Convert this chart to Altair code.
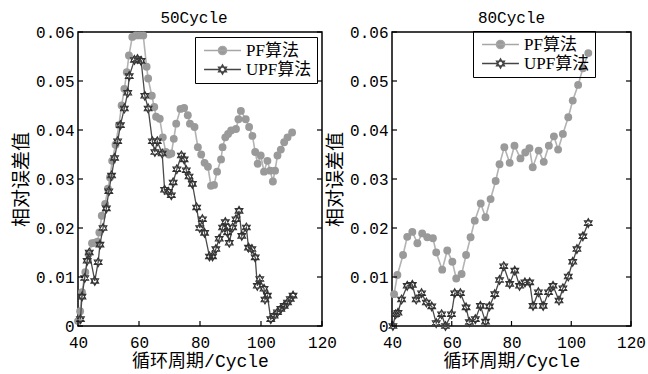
import altair as alt
import pandas as pd

SERIES = ["PF算法", "UPF算法"]
X_TICKS = [40, 60, 80, 100, 120]
Y_TICKS = [0, 0.01, 0.02, 0.03, 0.04, 0.05, 0.06]

# ---- 50Cycle panel ----
L_PF_X = [40.0, 40.7, 41.3, 42.4, 43.5, 44.6, 45.6, 46.4, 47.0, 47.8, 48.9, 49.8, 50.5, 51.2,
          52.3, 53.4, 54.3, 55.2, 56.0, 56.7, 57.8, 59.0, 60.2, 61.4, 62.5, 63.0, 64.2, 65.0,
          65.6, 66.8, 67.8, 68.8, 69.8, 70.6, 71.4, 72.2, 73.6, 74.8, 76.0, 76.7, 78.2, 79.3,
          80.4, 81.5, 82.6, 83.6, 84.6, 85.6, 86.9, 87.4, 88.3, 89.2, 90.2, 91.8, 92.6, 93.4,
          95.0, 96.1, 97.2, 98.1, 98.9, 99.9, 101.0, 102.1, 103.0, 103.9, 104.6, 105.4, 106.5,
          107.6, 108.7, 110.2]
L_PF_Y = [0.0010, 0.0030, 0.0069, 0.0110, 0.0147, 0.0169, 0.0170, 0.0172, 0.0191, 0.0225,
          0.0249, 0.0280, 0.0303, 0.0337, 0.0370, 0.0410, 0.0450, 0.0484, 0.0518, 0.0552,
          0.0590, 0.0593, 0.0593, 0.0593, 0.0529, 0.0505, 0.0470, 0.0447, 0.0427, 0.0423,
          0.0385, 0.0355, 0.0350, 0.0352, 0.0382, 0.0413, 0.0443, 0.0445, 0.0430, 0.0413,
          0.0406, 0.0365, 0.0350, 0.0333, 0.0325, 0.0286, 0.0288, 0.0315, 0.0340, 0.0365,
          0.0385, 0.0392, 0.0399, 0.0402, 0.0422, 0.0439, 0.0422, 0.0406, 0.0388, 0.0355,
          0.0331, 0.0348, 0.0315, 0.0337, 0.0317, 0.0295, 0.0317, 0.0348, 0.0360, 0.0375,
          0.0385, 0.0395]
L_UPF_X = [40.8, 41.3, 42.2, 43.0, 43.7, 45.5, 46.6, 47.2, 48.2, 49.3, 50.1, 51.0, 52.0, 53.0,
           53.9, 55.2, 56.3, 56.8, 58.5, 59.5, 60.7, 61.9, 63.0, 64.4, 65.2, 66.0, 67.6, 68.4,
           69.6, 70.6, 71.2, 72.4, 73.9, 74.8, 75.5, 76.4, 77.5, 78.9, 79.9, 80.8, 81.5, 83.1,
           84.1, 85.2, 86.3, 87.4, 88.3, 89.0, 89.6, 90.7, 91.8, 92.8, 93.7, 95.2, 95.9, 97.0,
           98.1, 98.8, 99.6, 101.0, 101.3, 102.1, 103.2, 104.3, 105.4, 106.5, 107.6, 108.7,
           109.6, 110.5]
L_UPF_Y = [0.0014, 0.0060, 0.0098, 0.0133, 0.0150, 0.0092, 0.0130, 0.0166, 0.0200, 0.0240,
           0.0275, 0.0307, 0.0343, 0.0377, 0.0410, 0.0444, 0.0476, 0.0510, 0.0543, 0.0545,
           0.0541, 0.0470, 0.0444, 0.0377, 0.0355, 0.0377, 0.0352, 0.0278, 0.0274, 0.0267,
           0.0293, 0.0320, 0.0348, 0.0340, 0.0318, 0.0305, 0.0290, 0.0242, 0.0200, 0.0218,
           0.0190, 0.0142, 0.0142, 0.0157, 0.0178, 0.0201, 0.0212, 0.0191, 0.0170, 0.0201,
           0.0218, 0.0235, 0.0184, 0.0201, 0.0160, 0.0157, 0.0140, 0.0082, 0.0096, 0.0076,
           0.0054, 0.0062, 0.0014, 0.0021, 0.0028, 0.0035, 0.0041, 0.0048, 0.0055, 0.0062]

# ---- 80Cycle panel ----
R_PF_X = [40.7, 41.8, 43.7, 45.1, 46.8, 48.5, 50.1, 51.8, 53.7, 54.8, 56.8, 58.5, 60.2, 61.5,
          63.3, 64.8, 66.3, 67.7, 69.7, 71.3, 73.0, 74.7, 76.0, 77.6, 79.4, 81.0, 83.0, 84.6,
          86.0, 87.1, 89.1, 90.8, 92.5, 94.2, 95.6, 97.2, 99.0, 100.5, 102.3, 103.9, 105.7]
R_PF_Y = [0.0065, 0.0104, 0.0145, 0.0182, 0.0192, 0.0169, 0.0189, 0.0181, 0.0179, 0.0150,
          0.0115, 0.0154, 0.0131, 0.0097, 0.0106, 0.0145, 0.0181, 0.0215, 0.0250, 0.0222,
          0.0259, 0.0296, 0.0330, 0.0365, 0.0333, 0.0368, 0.0342, 0.0354, 0.0363, 0.0324,
          0.0358, 0.0335, 0.0368, 0.0387, 0.0360, 0.0392, 0.0426, 0.0460, 0.0492, 0.0526,
          0.0557]
R_UPF_X = [40.3, 41.2, 42.0, 43.2, 45.1, 46.8, 48.1, 49.9, 51.5, 53.3, 54.8, 56.6, 57.9, 59.9,
           61.0, 62.9, 64.8, 65.9, 67.9, 69.6, 71.3, 72.6, 74.4, 76.0, 77.4, 79.4, 81.1, 82.7,
           84.5, 86.1, 87.2, 89.0, 90.6, 92.4, 93.9, 95.9, 97.2, 99.0, 100.5, 101.9, 103.9,
           105.7]
R_UPF_Y = [0.0000, 0.0024, 0.0027, 0.0054, 0.0082, 0.0084, 0.0054, 0.0067, 0.0048, 0.0040,
           0.0006, 0.0024, 0.0000, 0.0024, 0.0067, 0.0067, 0.0038, 0.0008, 0.0014, 0.0041,
           0.0009, 0.0040, 0.0065, 0.0094, 0.0122, 0.0086, 0.0113, 0.0082, 0.0089, 0.0089,
           0.0041, 0.0069, 0.0041, 0.0069, 0.0082, 0.0052, 0.0077, 0.0101, 0.0131, 0.0157,
           0.0183, 0.0210]

H = 294
HEX = "M0,-1L0.866,0.5L-0.866,0.5Z M0,1L0.866,-0.5L-0.866,-0.5Z"
PF_LEG = "M-4,0L4,0M-0.9,0A0.9,0.9,0,1,1,0.9,0A0.9,0.9,0,1,1,-0.9,0Z"
UPF_LEG = "M-4,0L-0.8,0M0.8,0L4,0M0,-1L0.866,0.5L-0.866,0.5ZM0,1L0.866,-0.5L-0.866,-0.5Z"

MONO_CJK = "Liberation Mono, Noto Sans CJK SC"


def panel(pfx, pfy, upx, upy, title, W, legx, legy, tdx):
    pf = pd.DataFrame({"cycle": pfx, "value": pfy, "series": SERIES[0]})
    up = pd.DataFrame({"cycle": upx, "value": upy, "series": SERIES[1]})
    both = pd.concat([pf, up], ignore_index=True)
    xs = alt.Scale(domain=[40, 120], nice=False, zero=False)
    ys = alt.Scale(domain=[0, 0.06], nice=False)
    xax = alt.Axis(values=X_TICKS, title="循环周期/Cycle", ticks=False, grid=False,
                   domain=False, labelPadding=8, titlePadding=2, titleFont=MONO_CJK,
                   titleFontSize=18, titleFontWeight="normal", labelFont="Liberation Mono",
                   labelFontSize=16, labelColor="black", titleColor="black",
                   labelFlush=False, labelOverlap=False)
    yax = alt.Axis(values=Y_TICKS, title="相对误差值", ticks=False, grid=False, domain=False,
                   labelPadding=4, titlePadding=4, titleFont="Noto Sans CJK SC",
                   titleFontSize=19, titleFontWeight="normal", labelFont="Liberation Mono",
                   labelFontSize=16, labelColor="black", titleColor="black",
                   labelFlush=False, labelOverlap=False,
                   labelExpr="datum.value == 0 ? '0' : format(datum.value, '.2f')")

    def X(field):
        return alt.X(field, scale=xs, axis=xax)

    def Y(field):
        return alt.Y(field, scale=ys, axis=yax)

    pf_line = alt.Chart(pf).mark_line(color="#b3b3b3", strokeWidth=1.6).encode(
        x=X("cycle:Q"), y=Y("value:Q"))
    pf_pts = alt.Chart(pf).mark_point(shape="circle", filled=True, color="#9a9a9a",
                                      size=62, opacity=1).encode(
        x=X("cycle:Q"), y=Y("value:Q"))
    up_line = alt.Chart(up).mark_line(color="#4a4a4a", strokeWidth=1.3).encode(
        x=X("cycle:Q"), y=Y("value:Q"))
    up_pts = alt.Chart(up).mark_point(shape=HEX, fill="#eeeeee", stroke="#333333",
                                      strokeWidth=1.1, size=80, opacity=1,
                                      fillOpacity=1).encode(
        x=X("cycle:Q"), y=Y("value:Q"))

    yt = pd.DataFrame({"cycle": [40] * len(Y_TICKS), "value": Y_TICKS})
    xt = pd.DataFrame({"cycle": X_TICKS, "value": [0] * len(X_TICKS)})
    tl = alt.Chart(yt).mark_rule(color="black", strokeWidth=1.2).encode(
        y=Y("value:Q"), x=alt.value(0), x2=alt.value(5))
    tr = alt.Chart(yt).mark_rule(color="black", strokeWidth=1.2).encode(
        y=Y("value:Q"), x=alt.value(W - 5), x2=alt.value(W))
    tb = alt.Chart(xt).mark_rule(color="black", strokeWidth=1.2).encode(
        x=X("cycle:Q"), y=alt.value(H), y2=alt.value(H - 5))

    leg = alt.Legend(title=None, orient="none", legendX=legx, legendY=legy,
                     fillColor="transparent", strokeColor="black", padding=5, cornerRadius=0,
                     symbolSize=85, symbolOffset=14, labelOffset=15, symbolStrokeWidth=1.3,
                     labelFont="Liberation Serif, Noto Sans CJK SC", labelFontSize=17,
                     labelColor="black", rowPadding=1, zindex=0)
    legend_layer = alt.Chart(both).transform_filter("false").mark_point(
        size=85, strokeWidth=1.3, opacity=1).encode(
        shape=alt.Shape("series:N", scale=alt.Scale(domain=SERIES, range=[PF_LEG, UPF_LEG]),
                        legend=leg),
        color=alt.Color("series:N", scale=alt.Scale(domain=SERIES, range=["#a6a6a6", "#444444"]),
                        legend=leg),
        fill=alt.Fill("series:N", scale=alt.Scale(domain=SERIES, range=["#9a9a9a", "#666666"]),
                      legend=leg),
    )

    return alt.layer(pf_line, pf_pts, up_line, up_pts, tl, tr, tb, legend_layer).properties(
        width=W, height=H,
        title=alt.TitleParams(text=title, font="Liberation Mono", fontSize=16,
                              fontWeight="normal", color="black", offset=-2, dx=tdx),
    )


left = panel(L_PF_X, L_PF_Y, L_UPF_X, L_UPF_Y, "50Cycle", 244, 117, 5, -6)
right = panel(R_PF_X, R_PF_Y, R_UPF_X, R_UPF_Y, "80Cycle", 239, 81, -1, 0)

chart = alt.hconcat(left, right, spacing=70, bounds="flush").resolve_scale(
    x="independent", y="independent", color="independent", shape="independent",
    fill="independent").resolve_legend(color="independent", shape="independent",
                                       fill="independent").properties(
    padding={"left": 11, "top": 9, "right": 1, "bottom": 1}, background="white"
).configure_view(stroke="black", strokeWidth=1.5)

chart.save("out.html", embed_options={"renderer": "svg", "actions": False})
